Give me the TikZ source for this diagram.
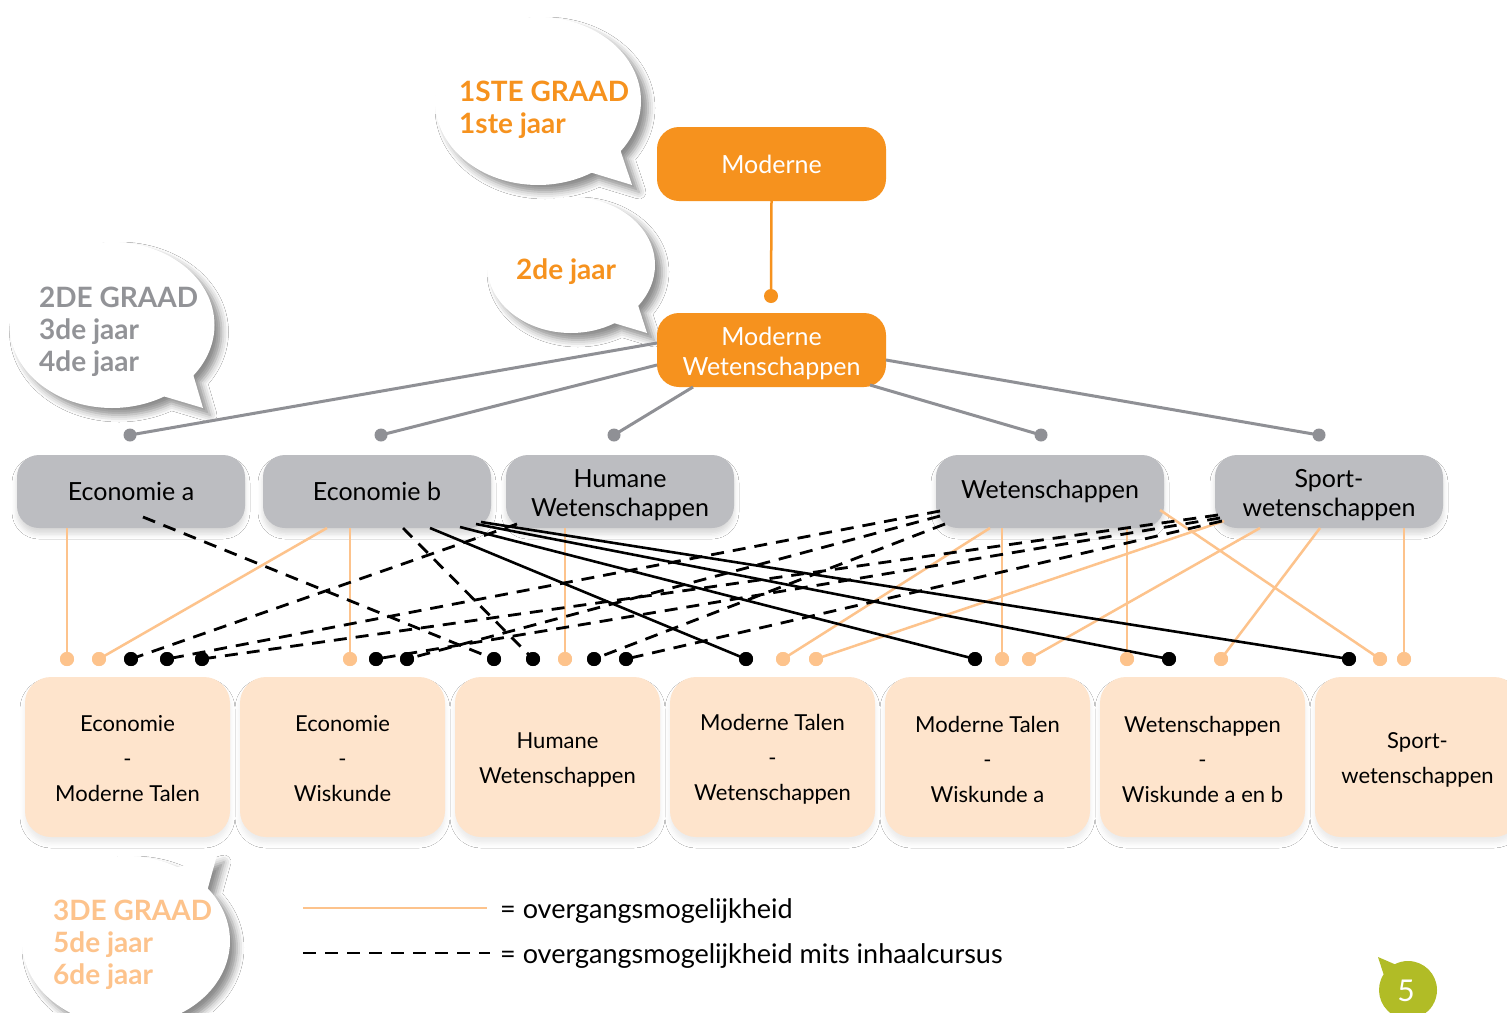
\documentclass[tikz,border=0pt]{standalone}
\usepackage{fontspec}
\setmainfont{Lato}
\usetikzlibrary{shapes.callouts,shadows.blur}
\definecolor{mworange}{RGB}{246,146,30}
\definecolor{boxgray}{RGB}{188,189,193}
\definecolor{linegray}{RGB}{143,144,149}
\definecolor{peach}{RGB}{253,195,140}
\definecolor{peachfill}{RGB}{254,228,204}
\definecolor{bubgray}{RGB}{146,147,151}
\definecolor{badgegreen}{RGB}{177,188,38}
\tikzset{
 obox/.style={rounded corners=22pt, fill=mworange, text=white, minimum width=229pt, minimum height=74pt, align=center, font=\fontsize{25}{30}\selectfont, inner sep=0pt},
 gbox/.style={rounded corners=22pt, fill=boxgray, text=black, minimum width=228pt, minimum height=73pt, align=center, font=\fontsize{25}{29}\selectfont, inner sep=0pt, blur shadow={shadow xshift=0pt, shadow yshift=-6pt, shadow blur radius=5pt, shadow opacity=15}},
 pbox/.style={rounded corners=26pt, fill=peachfill, minimum width=205pt, minimum height=160pt, inner sep=0pt, blur shadow={shadow xshift=0pt, shadow yshift=-6pt, shadow blur radius=5pt, shadow opacity=8}},
 btxt/.style={align=center, font=\fontsize{22}{35}\selectfont, inner sep=0pt},
 gtxt/.style={align=center, font=\fontsize{25}{29}\selectfont, inner sep=0pt},
 otxt/.style={align=center, text=white, font=\fontsize{25}{30}\selectfont, inner sep=0pt},
 bubble/.style={ellipse callout, fill=white, inner sep=0pt, callout pointer arc=22, blur shadow={shadow xshift=7pt, shadow yshift=-7pt, shadow blur radius=7pt, shadow opacity=45}},
 btext/.style={anchor=base west, inner sep=0pt, font=\fontsize{28}{32}\selectfont\bfseries},
 ltext/.style={anchor=base west, inner sep=0pt, font=\fontsize{27}{30}\selectfont},
 pline/.style={draw=peach, line width=2.5pt},
 oline/.style={draw=mworange, line width=2.5pt},
 bline/.style={draw=black, line width=2.6pt},
 dline/.style={draw=black, line width=2.8pt, dash pattern=on 13pt off 9pt},
 gline/.style={draw=linegray, line width=3pt},
 pdot/.style={circle, fill=peach, minimum size=14pt, inner sep=0pt},
 bdot/.style={circle, fill=black, minimum size=14pt, inner sep=0pt},
 gdot/.style={circle, fill=linegray, minimum size=13pt, inner sep=0pt},
 odot/.style={circle, fill=mworange, minimum size=14pt, inner sep=0pt},
}
\begin{document}
\begin{tikzpicture}[x=1pt,y=-1pt]
\useasboundingbox (0,0) rectangle (1507,1012);
\fill[white] (0,0) rectangle (1507,1012);

% bubbles
\node[bubble, minimum width=206pt, minimum height=168pt, callout absolute pointer={(632,185)}] (b1) at (538,101) {};
\node[bubble, minimum width=168pt, minimum height=136pt, callout absolute pointer={(647,333)}] (b2) at (571,265) {};
\node[bubble, minimum width=205pt, minimum height=166pt, callout absolute pointer={(203,408)}] (b3) at (112,325) {};
\node[bubble, minimum width=208pt, minimum height=170pt, callout absolute pointer={(217,855)}] (b4) at (126,941) {};

\node[btext, text=mworange] (t1a) at (459,101) {1STE GRAAD};
\node[btext, text=mworange] (t1b) at (459,133) {1ste jaar};
\node[btext, text=mworange] (t2) at (516,279) {2de jaar};
\node[btext, text=bubgray] (t3a) at (39,307) {2DE GRAAD};
\node[btext, text=bubgray] (t3b) at (39,339) {3de jaar};
\node[btext, text=bubgray] (t3c) at (39,371) {4de jaar};
\node[btext, text=peach] (t4a) at (53,920) {3DE GRAAD};
\node[btext, text=peach] (t4b) at (53,952) {5de jaar};
\node[btext, text=peach] (t4c) at (53,984) {6de jaar};

% orange boxes
\node[obox] (mod) at (771.5,164) {Moderne};
\node[obox] (mw) at (771.5,350) {};
\node[otxt] (mwt) at (771.5,353) {Moderne\\Wetenschappen};
\node[odot] (od) at (771,296) {};
\draw[oline] (mod.south) -- (od.center);

% gray boxes
\node[gbox] (ea) at (131,491.5) {Economie a};
\node[gbox] (eb) at (377,491.5) {Economie b};
\node[gbox] (hw) at (620,491.5) {};
\node[gtxt] (hwt) at (620,495.5) {Humane\\Wetenschappen};
\node[gbox] (we) at (1050,491.5) {Wetenschappen};
\node[gbox] (sw) at (1329,491.5) {};
\node[gtxt] (swt) at (1329,495.5) {Sport-\\wetenschappen};

% bottom boxes
\node[pbox] (bx1) at (127.5,757) {};
\node[pbox] (bx2) at (342.5,757) {};
\node[pbox] (bx3) at (557.5,757) {};
\node[pbox] (bx4) at (772.5,757) {};
\node[pbox] (bx5) at (987.5,757) {};
\node[pbox] (bx6) at (1202.5,757) {};
\node[pbox] (bx7) at (1417.5,757) {};
\node[btxt] (bt1) at (127.5,759) {Economie\\-\\Moderne Talen};
\node[btxt] (bt2) at (342.5,759) {Economie\\-\\Wiskunde};
\node[btxt] (bt3) at (557.5,760) {Humane\\Wetenschappen};
\node[btxt] (bt4) at (772.5,759) {Moderne Talen\\-\\Wetenschappen};
\node[btxt] (bt5) at (987.5,759) {Moderne Talen\\-\\Wiskunde a};
\node[btxt] (bt6) at (1202.5,759) {Wetenschappen\\-\\Wiskunde a en b};
\node[btxt] (bt7) at (1417.5,760) {Sport-\\wetenschappen};

% gray connectors from MW
\coordinate (mwa) at (657,343);
\coordinate (mwb) at (657,365);
\coordinate (mwc) at (693,387);
\coordinate (mwd) at (870,385);
\coordinate (mwe) at (886,360);
\node[gdot] (g130) at (130,435) {};
\node[gdot] (g381) at (381,435) {};
\node[gdot] (g614) at (614,435) {};
\node[gdot] (g1041) at (1041,435) {};
\node[gdot] (g1319) at (1319,435) {};
\draw[gline] (mwa) -- (g130.center);
\draw[gline] (mwb) -- (g381.center);
\draw[gline] (mwc) -- (g614.center);
\draw[gline] (mwd) -- (g1041.center);
\draw[gline] (mwe) -- (g1319.center);

% dots
\foreach \x in {67,99,350,565,783,816,1002,1029,1127,1221,1380,1404}
  \node[pdot] (p\x) at (\x,659) {};
\foreach \x in {131,167,202,376,407,494,533,594,626,746,975,1169,1349}
  \node[bdot] (k\x) at (\x,659) {};

% start coordinates on boxes
\coordinate (ea1) at (67,528);
\coordinate (ea2) at (143,517);
\coordinate (eb1) at (327,528);
\coordinate (eb2) at (350,528);
\coordinate (eb3) at (403,528);
\coordinate (eb4) at (430,528);
\coordinate (eb5) at (460,527);
\coordinate (eb6) at (476,524);
\coordinate (eb7) at (481,522);
\coordinate (hw1) at (517,524);
\coordinate (hw2) at (565,528);
\coordinate (we1) at (940,511);
\coordinate (we2) at (940,516);
\coordinate (we3) at (945,524);
\coordinate (we4) at (990,528);
\coordinate (we5) at (1002,528);
\coordinate (we6) at (1127,528);
\coordinate (we7) at (1160,510);
\coordinate (sw1) at (1218,515);
\coordinate (sw2) at (1220,518);
\coordinate (sw3) at (1222,521);
\coordinate (sw4) at (1224,521);
\coordinate (sw5) at (1260,528);
\coordinate (sw6) at (1320,528);
\coordinate (sw7) at (1404,528);

% peach connectors
\draw[pline] (ea1) -- (p67.center);
\draw[pline] (eb1) -- (p99.center);
\draw[pline] (eb2) -- (p350.center);
\draw[pline] (hw2) -- (p565.center);
\draw[pline] (we4) -- (p783.center);
\draw[pline] (sw4) -- (p816.center);
\draw[pline] (we5) -- (p1002.center);
\draw[pline] (sw5) -- (p1029.center);
\draw[pline] (we6) -- (p1127.center);
\draw[pline] (sw6) -- (p1221.center);
\draw[pline] (we7) -- (p1380.center);
\draw[pline] (sw7) -- (p1404.center);

% dashed connectors
\draw[dline] (ea2) -- (k494.center);
\draw[dline] (eb3) -- (k533.center);
\draw[dline] (hw1) -- (k131.center);
\draw[dline] (we1) -- (k167.center);
\draw[dline] (we2) -- (k407.center);
\draw[dline] (we3) -- (k594.center);
\draw[dline] (sw1) -- (k202.center);
\draw[dline] (sw2) -- (k376.center);
\draw[dline] (sw3) -- (k626.center);

% solid black connectors
\draw[bline] (eb4) -- (k746.center);
\draw[bline] (eb5) -- (k975.center);
\draw[bline] (eb6) -- (k1169.center);
\draw[bline] (eb7) -- (k1349.center);

% redraw dots on top
\foreach \x in {67,99,350,565,783,816,1002,1029,1127,1221,1380,1404}
  \fill[peach] (p\x.center) circle (7);
\foreach \x in {131,167,202,376,407,494,533,594,626,746,975,1169,1349}
  \fill[black] (k\x.center) circle (7);

% legend
\coordinate (la1) at (303,908);
\coordinate (la2) at (487,908);
\coordinate (lb1) at (303,953);
\coordinate (lb2) at (490,953);
\draw[pline] (la1) -- (la2);
\draw[dline] (lb1) -- (lb2);
\node[ltext] (lt1) at (500,918) {= overgangsmogelijkheid};
\node[ltext] (lt2) at (500,963) {= overgangsmogelijkheid mits inhaalcursus};

% page badge
\node[ellipse callout, fill=badgegreen, minimum width=58pt, minimum height=58pt, inner sep=0pt, callout pointer arc=30, callout absolute pointer={(1378,957)}] (badge) at (1408,990) {};
\node[text=white, font=\fontsize{30}{30}\selectfont, inner sep=0pt] (pg) at (1406,991) {5};
\end{tikzpicture}
\end{document}
